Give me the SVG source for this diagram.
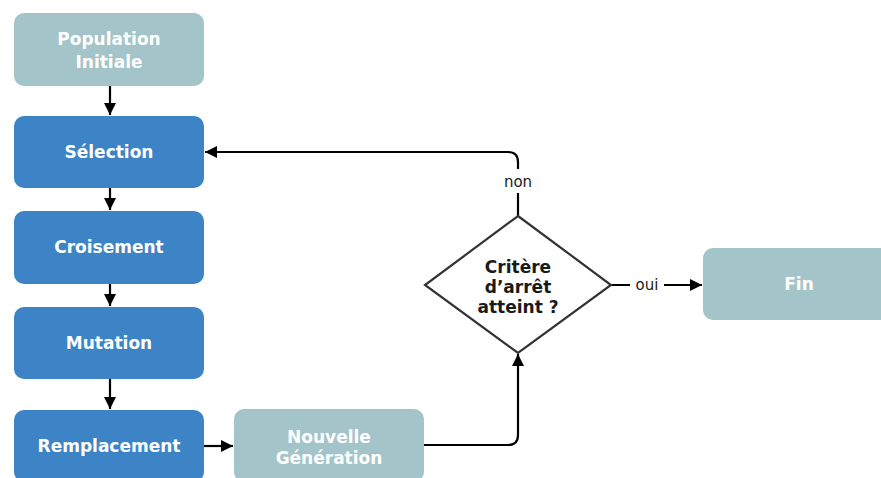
<svg xmlns="http://www.w3.org/2000/svg" width="881" height="478" viewBox="0 0 881 478">
  <style>
    .box-light { fill: #a3c4c9; }
    .box-blue { fill: #3d84c6; }
    .lbl { font-family: "DejaVu Sans", Verdana, sans-serif; font-weight: bold; font-size: 17px; fill: #ffffff; text-anchor: middle; }
    .dlbl { font-family: "DejaVu Sans", Verdana, sans-serif; font-weight: bold; font-size: 17px; fill: #1a1a1a; text-anchor: middle; }
    .elbl { font-family: "DejaVu Sans", Verdana, sans-serif; font-size: 15px; fill: #1a1a1a; text-anchor: middle; }
    .edge { fill: none; stroke: #000000; stroke-width: 2.2; }
    .diamond { fill: #ffffff; stroke: #333333; stroke-width: 2.2; }
  </style>
  <defs>
    <marker id="arrow" viewBox="0 0 10 10" refX="10" refY="5" markerWidth="5.5" markerHeight="5.5" markerUnits="strokeWidth" orient="auto">
      <path d="M0,0 L10,5 L0,10 z" fill="#000000"/>
    </marker>
  </defs>

  <rect width="881" height="478" fill="#ffffff"/>

  <g id="connectors">
    <line class="edge" x1="110" y1="86" x2="110" y2="115" marker-end="url(#arrow)"/>
    <line class="edge" x1="110" y1="188" x2="110" y2="210" marker-end="url(#arrow)"/>
    <line class="edge" x1="110" y1="284" x2="110" y2="306" marker-end="url(#arrow)"/>
    <line class="edge" x1="110" y1="379" x2="110" y2="409" marker-end="url(#arrow)"/>
    <line class="edge" x1="204" y1="446" x2="233" y2="446" marker-end="url(#arrow)"/>
    <path class="edge" d="M424,445 L508,445 Q518,445 518,435 L518,354" marker-end="url(#arrow)"/>
    <path class="edge" d="M518,216 L518,162 Q518,152 508,152 L205,152" marker-end="url(#arrow)"/>
    <path class="edge" d="M611,285 L702,285" marker-end="url(#arrow)"/>
    <rect x="499" y="169" width="38" height="24" fill="#ffffff"/>
    <text class="elbl" x="518" y="187">non</text>
    <rect x="630" y="275" width="34" height="20" fill="#ffffff"/>
    <text class="elbl" x="647" y="290">oui</text>
  </g>

  <g id="population-initiale">
    <rect class="box-light" x="14" y="13" width="190" height="73" rx="10"/>
    <text class="lbl" x="109" y="45">Population</text>
    <text class="lbl" x="109" y="68">Initiale</text>
  </g>
  <g id="selection">
    <rect class="box-blue" x="14" y="116" width="190" height="72" rx="10"/>
    <text class="lbl" x="109" y="158">Sélection</text>
  </g>
  <g id="croisement">
    <rect class="box-blue" x="14" y="211" width="190" height="73" rx="10"/>
    <text class="lbl" x="109" y="253">Croisement</text>
  </g>
  <g id="mutation">
    <rect class="box-blue" x="14" y="307" width="190" height="72" rx="10"/>
    <text class="lbl" x="109" y="349">Mutation</text>
  </g>
  <g id="remplacement">
    <rect class="box-blue" x="14" y="410" width="190" height="72" rx="10"/>
    <text class="lbl" x="109" y="452">Remplacement</text>
  </g>
  <g id="nouvelle-generation">
    <rect class="box-light" x="234" y="409" width="190" height="73" rx="10"/>
    <text class="lbl" x="329" y="443">Nouvelle</text>
    <text class="lbl" x="329" y="464">Génération</text>
  </g>
  <g id="critere">
    <polygon class="diamond" points="518,216 611,285 518,353 425,285"/>
    <text class="dlbl" x="518" y="273">Critère</text>
    <text class="dlbl" x="518" y="293">d’arrêt</text>
    <text class="dlbl" x="518" y="313">atteint ?</text>
  </g>
  <g id="fin">
    <rect class="box-light" x="703" y="248" width="192" height="72" rx="10"/>
    <text class="lbl" x="799" y="290">Fin</text>
  </g>
</svg>
